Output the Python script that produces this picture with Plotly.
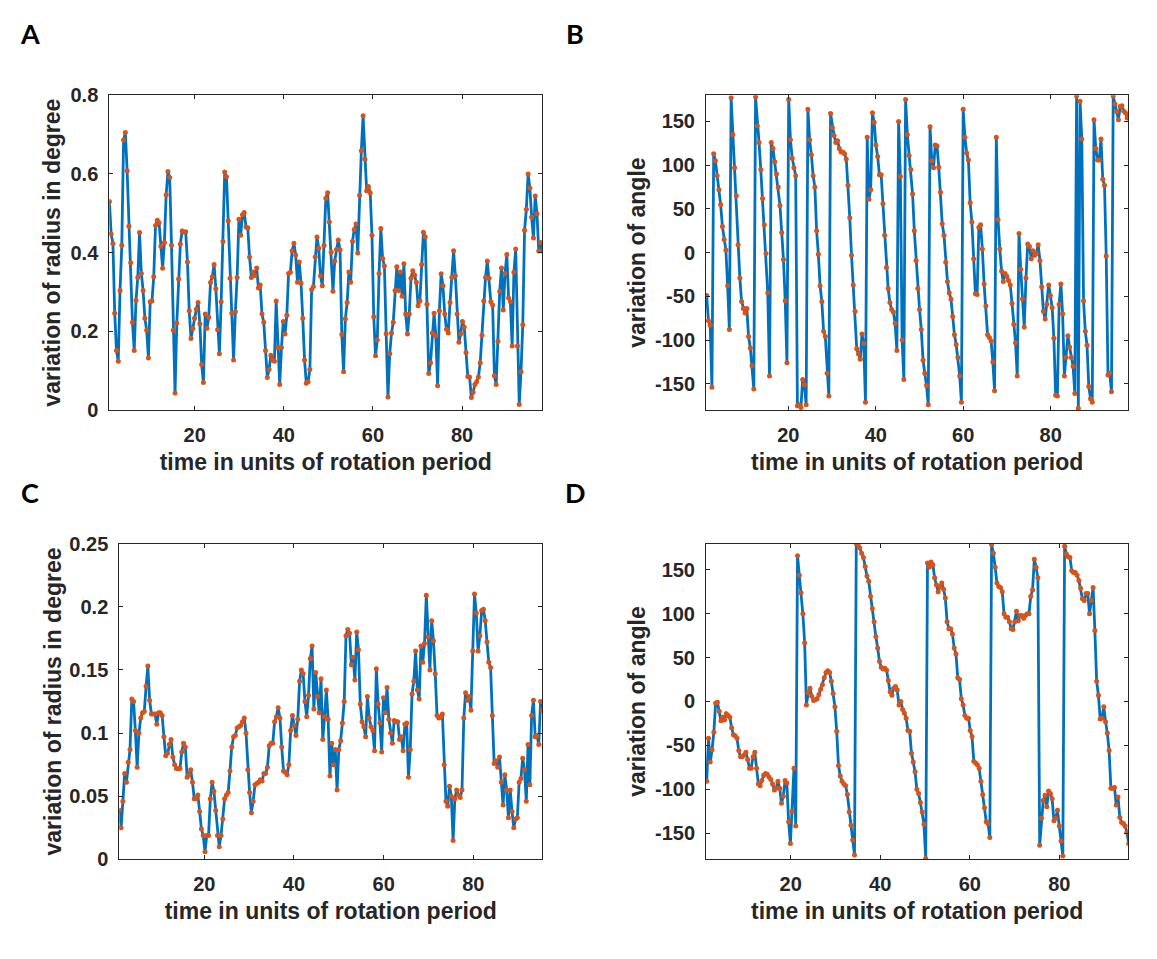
import numpy as np
import plotly.graph_objects as go

# ---------------- data ----------------
radius_a = [
    0.53, 0.447, 0.423, 0.246, 0.151, 0.124, 0.304, 0.419, 0.686, 0.705,
    0.608, 0.467, 0.374, 0.223, 0.151, 0.279, 0.337, 0.451, 0.347, 0.304,
    0.233, 0.203, 0.132, 0.275, 0.277, 0.339, 0.469, 0.482, 0.476, 0.416,
    0.360, 0.426, 0.547, 0.606, 0.591, 0.419, 0.203, 0.043, 0.221, 0.333,
    0.422, 0.455, 0.452, 0.453, 0.376, 0.252, 0.182, 0.207, 0.233, 0.256,
    0.273, 0.219, 0.116, 0.070, 0.244, 0.208, 0.236, 0.324, 0.339, 0.370,
    0.308, 0.204, 0.143, 0.275, 0.428, 0.605, 0.593, 0.481, 0.335, 0.246,
    0.127, 0.250, 0.337, 0.485, 0.444, 0.496, 0.502, 0.465, 0.463, 0.389,
    0.337,
    0.351, 0.342, 0.361, 0.310, 0.318, 0.244, 0.223, 0.151, 0.083, 0.103,
    0.139, 0.127, 0.124, 0.277, 0.159, 0.065, 0.159, 0.225, 0.193, 0.241,
    0.347, 0.350, 0.405, 0.424, 0.394, 0.325, 0.376, 0.323, 0.233, 0.127,
    0.068, 0.072, 0.103, 0.306, 0.314, 0.389, 0.440, 0.411, 0.341, 0.316,
    0.418, 0.538, 0.552, 0.478, 0.401, 0.302, 0.379, 0.408, 0.432, 0.407,
    0.192, 0.097, 0.232, 0.273, 0.351, 0.325, 0.428, 0.459, 0.473, 0.399,
    0.546, 0.659, 0.748, 0.638, 0.557, 0.568, 0.552, 0.444, 0.237, 0.138,
    0.178, 0.347, 0.461, 0.385, 0.366, 0.194, 0.033, 0.143, 0.196, 0.223,
    0.304,
    0.364, 0.304, 0.351, 0.289, 0.372, 0.244, 0.193, 0.244, 0.335, 0.354,
    0.343, 0.325, 0.265, 0.277, 0.370, 0.452, 0.440, 0.269, 0.093, 0.120,
    0.196, 0.246, 0.188, 0.062, 0.252, 0.346, 0.316, 0.244, 0.205, 0.196,
    0.273, 0.337, 0.405, 0.341, 0.244, 0.172, 0.194, 0.225, 0.211, 0.146,
    0.085, 0.084, 0.032, 0.045, 0.065, 0.072, 0.084, 0.120, 0.190, 0.277,
    0.337, 0.379, 0.335, 0.275, 0.267, 0.087, 0.065, 0.175, 0.302, 0.361,
    0.254, 0.347, 0.395, 0.285, 0.275, 0.163, 0.350, 0.409, 0.163, 0.014,
    0.097, 0.217, 0.457, 0.510, 0.600, 0.564, 0.490, 0.437, 0.544, 0.499,
    0.404, 0.426, 0.404,
]

angle_b = [
    -49, -78, -83, -154, 113, 105, 88, 72, 55, 30,
    15, 3, -38, -88, 177, 135, 97, 65, 9, -29,
    -56, -64, -69, -64, -96, -109, -129, -156, 178, 145,
    126, 95, 62, 32, -1, -46, -141, 126, 119, 104,
    90, 75, 54, 23, -8, -55, -126, 175, 129, 108,
    97, 88, -175, -174, -177, -145, -151, -174, 164, 129,
    112, 88, 75, 25, -2, -38, -56, -90, -96, -138,
    -164, 159, 143, 134, 126, 128, 119,
    115, 115, 113, 107, 77, 40, -3, -37, -67, -110,
    -116, -122, -93, -104, -171, 132, 61, 72, 160, 149,
    123, 110, 89, 89, 56, 20, -17, -41, -57, -65,
    -68, -81, -112, 150, 87, -100, -145, 175, 135, 111,
    95, 67, 25, -9, -41, -65, -88, -123, -138, -152,
    -174, 144, 105, 97, 123, 122, 98, 69, 33, 20,
    -11, -33, -46, -53, -73, -94, -105, -120, -141, -171,
    164, 132, 114, 106, 57, 35, -7, -47,
    -48, 29, 32, 4, -36, -61, -94, -97, -101, -125,
    -158, 132, 38, 4, -21, -33, -24, -27, -32, -37,
    -58, -82, -103, -141, 22, -19, -53, -85, -29, 10,
    7, -7, 2, -3, -1, 9, -9, -39, -67, -76,
    -59, -37, -49, -63, -98, -163, -164, -59, -36, -70,
    -141, -120, -95, -108, -120, -130, -161, 179, -178, 173,
    130, -55, -90, -106, -153, -167, -171, 152, 119, 106,
    106, 130, 84, 77, -4, -140,
    -138, -159, 179, 170, 161, 152, 167, 168, 162, 160, 154, 158,
]

radius_c = [
    0.039, 0.025, 0.046, 0.068, 0.061, 0.077, 0.087, 0.127, 0.125, 0.102,
    0.073, 0.100, 0.112, 0.116, 0.117, 0.137, 0.153, 0.126, 0.115, 0.115,
    0.115, 0.107, 0.116, 0.116, 0.114, 0.097, 0.082, 0.084, 0.091, 0.095,
    0.081, 0.075, 0.072, 0.072, 0.072, 0.085, 0.092, 0.089, 0.065, 0.067,
    0.071, 0.061, 0.048, 0.048, 0.051, 0.038, 0.024, 0.019, 0.006, 0.019,
    0.019, 0.048, 0.061, 0.054, 0.039, 0.019, 0.010, 0.019, 0.032, 0.048,
    0.051, 0.053, 0.070, 0.089, 0.097, 0.098, 0.104, 0.105, 0.106, 0.109,
    0.112, 0.100, 0.071, 0.053, 0.037, 0.046, 0.059, 0.060, 0.061, 0.063,
    0.062, 0.068, 0.068, 0.073, 0.090, 0.092, 0.092, 0.109, 0.113, 0.120,
    0.112, 0.089, 0.070, 0.069, 0.067, 0.075, 0.102, 0.114, 0.106, 0.098,
    0.111, 0.141, 0.150, 0.147, 0.125, 0.113, 0.130, 0.159, 0.169, 0.119,
    0.148, 0.129, 0.116, 0.143,
    0.095, 0.113, 0.134, 0.111, 0.066, 0.092, 0.075, 0.087, 0.055, 0.087,
    0.094, 0.108, 0.125, 0.177, 0.182, 0.179, 0.154, 0.160, 0.142, 0.180,
    0.166, 0.123, 0.109, 0.105, 0.097, 0.129, 0.112, 0.105, 0.102, 0.086,
    0.151, 0.123, 0.108, 0.085, 0.128, 0.116, 0.136, 0.111, 0.100, 0.092,
    0.110, 0.109, 0.109, 0.095, 0.097, 0.086, 0.107, 0.108, 0.065, 0.087,
    0.131, 0.141, 0.165, 0.134, 0.127, 0.169, 0.156, 0.171, 0.209, 0.176,
    0.150, 0.189, 0.173, 0.147, 0.114, 0.112, 0.113, 0.115, 0.075, 0.046,
    0.042, 0.058, 0.050, 0.015, 0.048, 0.055, 0.051, 0.049, 0.055, 0.112,
    0.132, 0.126, 0.129, 0.118, 0.165, 0.210, 0.195, 0.165, 0.177, 0.197,
    0.198, 0.189, 0.172, 0.156, 0.152, 0.114, 0.076, 0.078, 0.073, 0.081,
    0.061, 0.043, 0.067, 0.055, 0.033, 0.055, 0.038, 0.025, 0.032, 0.033,
    0.061, 0.064, 0.080, 0.071, 0.046, 0.091, 0.059, 0.114, 0.126, 0.097,
    0.098, 0.091, 0.125, 0.118,
]

angle_d = [
    -91, -42, -69, -55, -35, -2, -1, -11, -22, -18,
    -21, -14, -16, -18, -30, -38, -39, -42, -56, -63,
    -63, -61, -58, -66, -76, -76, -63, -58, -76, -94,
    -96, -90, -84, -82, -83, -86, -89, -94, -101, -99,
    -91, -99, -116, -108, -90, -93, -137, -162, -125, -76,
    -142, 166, 144, 124, 100, 67, -4, 10, 15, 6,
    1, 2, 3, 8, 14, 19, 27, 33, 35, 33,
    23, 9, -6, -34, -73, -85, -91, -94, -96, -106,
    -126, -141, -158, -175, 180, 179, 175, 169, 164, 154,
    143, 137, 120, 106, 91, 74, 61, 46, 39, 37,
    38, 36, 24, 11, 7, 15, 17, 13, -4, 0,
    -9, -13, -19, -33, -34, -59, -69, -80, -100, -105,
    -115,
    -126, -140, -179, 158, 153, 159, 156, 141, 133, 125,
    131, 135, 128, 118, 91, 83, 83, 77, 61, 54,
    27, 25, 3, -4, -16, -19, -19, -33, -40, -68,
    -70, -72, -76, -91, -106, -121, -137, -139, -155, 179,
    169, 153, 135, 131, 130, 125, 100, 96, 96, 91,
    83, 82, 91, 103, 92, 98, 98, 95, 98, 100,
    100, 120, 127, 162, 153, 141, -164, -133, -113, -107,
    -120, -102, -105, -111, -136, -133, -124, -142, -159, -176,
    177, 168, 165, 164, 149, 147, 147, 144, 138, 129,
    117, 115, 123, 123, 100, 115, 130, 81, 23, 7,
    -20, -19, -6, -23, -36, -56, -99, -99, -98, -118,
    -109, -132, -138, -139, -142, -149, -162,
]

# time span (rotation periods) covered by each sampled series
span_a = (0.85, 98.0)
span_b = (1.33, 97.9)
span_c = (1.04, 95.4)
span_d = (1.24, 95.5)

# axis limits
xlim_a = (0.83, 98.0)
xlim_b = (1.17, 97.76)
xlim_c = (1.04, 95.39)
xlim_d = (1.08, 95.41)

x_ticks = [20, 40, 60, 80]
x_ticktext = ["20", "40", "60", "80"]
radius_ticks_a = [0, 0.2, 0.4, 0.6, 0.8]
radius_ticktext_a = ["0", "0.2", "0.4", "0.6", "0.8"]
radius_ticks_c = [0, 0.05, 0.1, 0.15, 0.2, 0.25]
radius_ticktext_c = ["0", "0.05", "0.1", "0.15", "0.2", "0.25"]
angle_ticks = [-150, -100, -50, 0, 50, 100, 150]
angle_ticktext = ["-150", "-100", "-50", "0", "50", "100", "150"]

panel_letters = ["A", "B", "C", "D"]
xlabel = "time in units of rotation period"
ylabel_radius = "variation of radius in degree"
ylabel_angle = "variation of angle"

# ---------------- figure ----------------
PAGE_W, PAGE_H = 1157, 959
OFF = 8                      # default page body margin
W, H = PAGE_W - OFF, PAGE_H - OFF
LINE_COLOR = "#0072BD"
MARK_COLOR = "#D95319"
AX_COLOR = "#262626"
FONT = "Liberation Sans, Arial, sans-serif"


def px_x(p):
    return (p - OFF) / W


def px_y(p):
    return 1 - (p - OFF) / H


series = [
    (radius_a, span_a, "x", "y"),
    (angle_b, span_b, "x2", "y2"),
    (radius_c, span_c, "x3", "y3"),
    (angle_d, span_d, "x4", "y4"),
]

fig = go.Figure()
for vals, span, xa, ya in series:
    t = np.linspace(span[0], span[1], len(vals))
    fig.add_trace(go.Scatter(
        x=t, y=vals, xaxis=xa, yaxis=ya, mode="lines+markers",
        line=dict(color=LINE_COLOR, width=2.8),
        marker=dict(color=MARK_COLOR, size=5, line=dict(width=0)),
        showlegend=False, hoverinfo="skip",
    ))

tickfont = dict(family=FONT, size=20, color=AX_COLOR, weight="bold")
titlefont = dict(family=FONT, size=23, color=AX_COLOR, weight="bold")


def xax(domain, rng, anchor):
    return dict(
        domain=domain, range=list(rng), anchor=anchor,
        tickmode="array", tickvals=x_ticks, ticktext=x_ticktext,
        ticks="inside", ticklen=4, tickwidth=1, tickcolor=AX_COLOR,
        showline=True, linecolor=AX_COLOR, linewidth=1, mirror="ticks",
        showgrid=False, zeroline=False, tickfont=tickfont,
        ticklabelstandoff=7,
        title=dict(text=xlabel, font=titlefont, standoff=8),
    )


def yax(domain, rng, anchor, tv, tt, label, standoff):
    return dict(
        domain=domain, range=list(rng), anchor=anchor,
        tickmode="array", tickvals=tv, ticktext=tt,
        ticks="inside", ticklen=4, tickwidth=1, tickcolor=AX_COLOR,
        showline=True, linecolor=AX_COLOR, linewidth=1, mirror="ticks",
        showgrid=False, zeroline=False, tickfont=tickfont,
        ticklabelstandoff=6,
        title=dict(text=label, font=titlefont, standoff=standoff),
    )


top = (px_y(408.3), px_y(86))
bot = (px_y(868.3), px_y(545))
left_a = (px_x(109.3), px_x(542.3))
left_c = (px_x(119.3), px_x(542.3))
right = (px_x(706), px_x(1128.3))

fig.update_layout(
    width=W, height=H, autosize=False,
    margin=dict(l=0, r=0, t=0, b=0),
    paper_bgcolor="white", plot_bgcolor="white",
    xaxis=xax(left_a, xlim_a, "y"),
    yaxis=yax(top, (0, 0.8), "x", radius_ticks_a, radius_ticktext_a, ylabel_radius, 3),
    xaxis2=xax(right, xlim_b, "y2"),
    yaxis2=yax(top, (-180, 180), "x2", angle_ticks, angle_ticktext, ylabel_angle, 2),
    xaxis3=xax(left_c, xlim_c, "y3"),
    yaxis3=yax(bot, (0, 0.25), "x3", radius_ticks_c, radius_ticktext_c, ylabel_radius, 1),
    xaxis4=xax(right, xlim_d, "y4"),
    yaxis4=yax(bot, (-180, 180), "x4", angle_ticks, angle_ticktext, ylabel_angle, 2),
)

letter_pos = [(30, 23), (575, 23), (30, 493), (575, 493)]
for letter, (lx, ly) in zip(panel_letters, letter_pos):
    fig.add_annotation(
        x=px_x(lx), y=px_y(ly), xref="paper", yref="paper",
        text=letter, showarrow=False, xanchor="center", yanchor="middle",
        font=dict(family="Lato, Open Sans, sans-serif", size=27, color="black", weight="bold"),
    )

fig.write_html("out.html")
